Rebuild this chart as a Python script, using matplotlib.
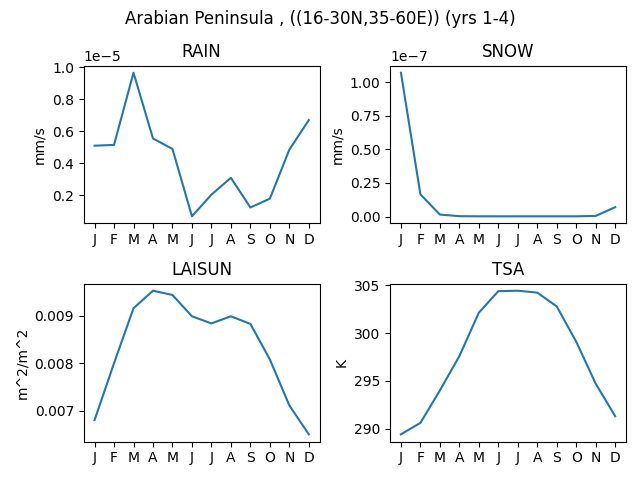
import matplotlib
matplotlib.use('Agg')
import matplotlib.pyplot as plt

months = ['J', 'F', 'M', 'A', 'M', 'J', 'J', 'A', 'S', 'O', 'N', 'D']

rain = [0.51e-5, 0.515e-5, 0.965e-5, 0.555e-5, 0.49e-5, 0.07e-5,
        0.205e-5, 0.31e-5, 0.125e-5, 0.18e-5, 0.485e-5, 0.67e-5]
snow = [1.07e-7, 0.165e-7, 0.015e-7, 0.003e-7, 0.002e-7, 0.002e-7,
        0.002e-7, 0.002e-7, 0.002e-7, 0.002e-7, 0.005e-7, 0.07e-7]
laisun = [0.00680, 0.00800, 0.00916, 0.00953, 0.00944, 0.00899,
          0.00884, 0.00899, 0.00883, 0.00808, 0.00711, 0.00650]
tsa = [289.4, 290.6, 294.0, 297.6, 302.15, 304.4,
       304.45, 304.25, 302.8, 299.1, 294.7, 291.3]

panels = [('RAIN', rain, 'mm/s'), ('SNOW', snow, 'mm/s'),
          ('LAISUN', laisun, 'm^2/m^2'), ('TSA', tsa, 'K')]

fig, axes = plt.subplots(2, 2, figsize=(6.4, 4.8), dpi=100)
x = list(range(12))
for ax, (name, vals, unit) in zip(axes.flat, panels):
    ax.plot(x, vals)
    ax.set_title(name)
    ax.set_ylabel(unit)
    ax.set_xticks(x)
    ax.set_xticklabels(months)

fig.suptitle('Arabian Peninsula , ((16-30N,35-60E)) (yrs 1-4)')
fig.subplots_adjust(left=0.131, right=0.978, top=0.8635, bottom=0.0802,
                    wspace=0.30, hspace=0.38)
fig.savefig('out.png')
